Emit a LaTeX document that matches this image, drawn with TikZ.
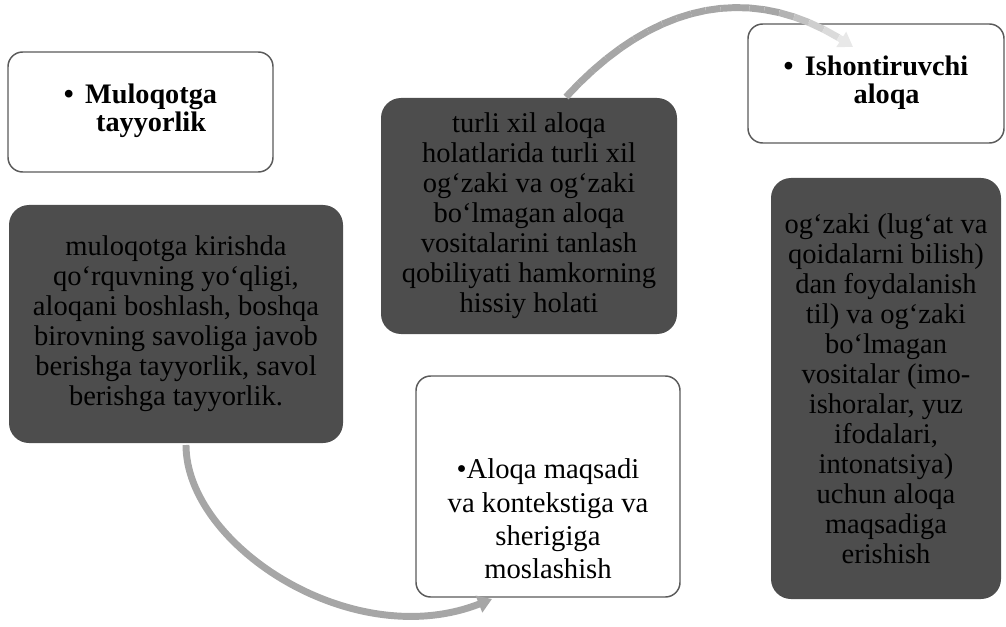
\documentclass[tikz,border=0pt]{standalone}
\usepackage{fontspec}
\setmainfont{Liberation Serif}
\usetikzlibrary{arrows.meta}

\definecolor{boxgray}{HTML}{4D4D4D}
\definecolor{edgegray}{HTML}{5A5A5A}
\definecolor{arrowgray}{HTML}{A6A6A6}
\definecolor{fadegray}{HTML}{E8E8E8}

\begin{document}
\begin{tikzpicture}[x=0.75pt,y=-0.75pt,
    dark box/.style={rectangle,rounded corners=15pt,fill=boxgray,inner sep=0pt,align=center,font=\fontsize{21.4}{22.5}\selectfont},
    light box/.style={rectangle,rounded corners=11pt,draw=edgegray,line width=1.1pt,fill=white,inner sep=0pt,align=center},
    title text/.style={font=\fontsize{21.2}{21}\selectfont\bfseries},
    flow arrow/.style={line width=5.2pt,arrowgray},
    flow head/.style={-{Triangle[length=10.5pt,width=13pt]}}]
    \useasboundingbox (0,0) rectangle (1006,627);

    % left column
    \node[light box,title text,minimum width=198.75pt,minimum height=90pt] (muloqot) at (140.5,112)
        {\textbullet\hspace{0.4em}\begin{tabular}[t]{@{}c@{}}Muloqotga\\tayyorlik\end{tabular}};
    \node[dark box,minimum width=250.5pt,minimum height=178.5pt] (kirish) at (176,324)
        {muloqotga kirishda\\qo‘rquvning yo‘qligi,\\aloqani boshlash, boshqa\\birovning savoliga javob\\berishga tayyorlik, savol\\berishga tayyorlik.};

    % middle column
    \node[dark box,minimum width=222pt,minimum height=177pt] (turli) at (529,216)
        {turli xil aloqa\\holatlarida turli xil\\og‘zaki va og‘zaki\\bo‘lmagan aloqa\\vositalarini tanlash\\qobiliyati hamkorning\\hissiy holati};
    \node[light box,minimum width=198pt,minimum height=165.75pt] (aloqa) at (548,486.5) {};
    \node[align=center,font=\fontsize{21.5}{25}\selectfont] (aloqa text) at (548,519)
        {•Aloqa maqsadi\\va kontekstiga va\\sherigiga\\moslashish};

    % right column
    \node[light box,title text,minimum width=192pt,minimum height=89.25pt] (ishont) at (876,83.5)
        {\textbullet\hspace{0.4em}\begin{tabular}[t]{@{}c@{}}Ishontiruvchi\\aloqa\end{tabular}};
    \node[dark box,minimum width=172.5pt,minimum height=315.75pt] (ogzaki) at (886,388.5)
        {og‘zaki (lug‘at va\\qoidalarni bilish)\\dan foydalanish\\til) va og‘zaki\\bo‘lmagan\\vositalar (imo-\\ishoralar, yuz\\ifodalari,\\intonatsiya)\\uchun aloqa\\maqsadiga\\erishish};

    % arrows
    \coordinate (a1s) at (186,445);
    \coordinate (a1e) at (492,599);
    \draw[flow arrow,flow head] (a1s) .. controls (186,545) and (352,654) .. (a1e);

    \coordinate (a2s) at (566,97);
    \coordinate (a2e) at (853,47);
    \path (a2s) .. controls (654,1) and (755,-21) .. (a2e)
        foreach \i [evaluate=\i as \t using \i/20] in {1,...,19} {coordinate[pos=\t] (q\i)};
    \draw[flow arrow] (a2s) -- (q1);
    \foreach \i [evaluate=\i as \j using int(\i+1), evaluate=\i as \mix using {min(100,max(0,(\i-14)*20))}] in {1,...,18}
        \draw[flow arrow,fadegray!\mix!arrowgray] (q\i) -- (q\j);
    \draw[flow arrow,flow head,fadegray] (q19) -- (a2e);
\end{tikzpicture}
\end{document}
